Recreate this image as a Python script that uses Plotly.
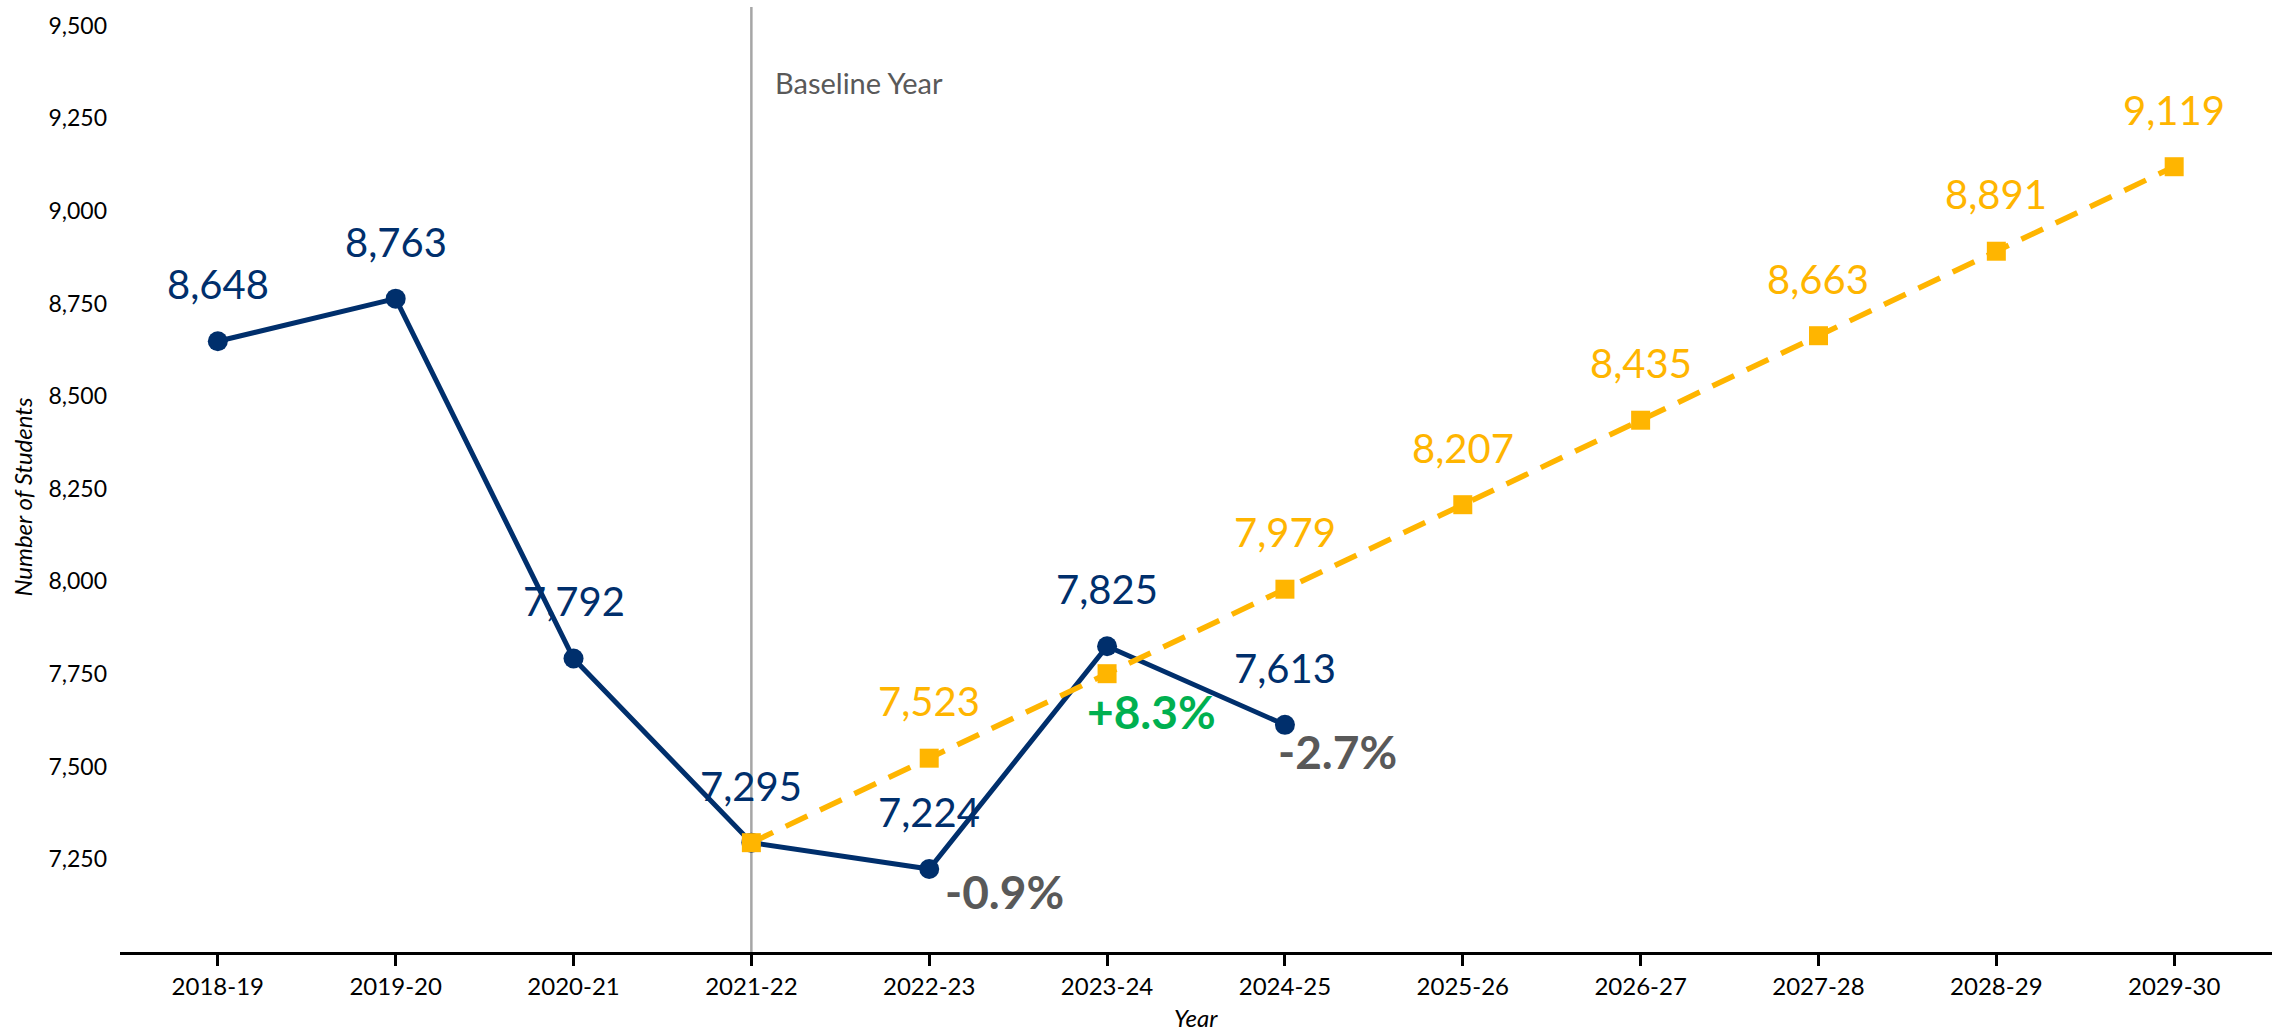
import plotly.graph_objects as go

# school years on the x axis
years = ['2018-19', '2019-20', '2020-21', '2021-22', '2022-23', '2023-24',
         '2024-25', '2025-26', '2026-27', '2027-28', '2028-29', '2029-30']

# actual enrollment
actual_years = years[:7]
actual = [8648, 8763, 7792, 7295, 7224, 7825, 7613]

# projected enrollment from the baseline year
proj_years = years[3:]
projected = [7295, 7523, 7751, 7979, 8207, 8435, 8663, 8891, 9119]
proj_labelled = ['2022-23', '2024-25', '2025-26', '2026-27', '2027-28', '2028-29', '2029-30']

# year-over-year change labels
pct_years = ['2022-23', '2023-24', '2024-25']
pct_text = ['-0.9%', '+8.3%', '-2.7%']

baseline = '2021-22'

navy = '#002F6C'
gold = '#FFB500'
grey = '#595959'
green = '#00B050'
font = 'Source Sans Pro, Lato, sans-serif'

fig = go.Figure()
fig.add_trace(go.Scatter(x=actual_years, y=actual, mode='lines+markers',
                         line=dict(color=navy, width=5),
                         marker=dict(color=navy, size=20, symbol='circle'),
                         name='Actual'))
fig.add_trace(go.Scatter(x=proj_years, y=projected, mode='lines+markers',
                         line=dict(color=gold, width=5.5, dash='24px,14px'),
                         marker=dict(color=gold, size=19, symbol='square'),
                         name='Projected'))

ann = []
for yr, v in zip(actual_years, actual):
    ann.append(dict(x=yr, y=v, text=f'{v:,}', showarrow=False, yshift=57,
                    font=dict(size=40, color=navy, family=font)))
for yr, v in zip(proj_years, projected):
    if yr in proj_labelled:
        ann.append(dict(x=yr, y=v, text=f'{v:,}', showarrow=False, yshift=57,
                        font=dict(size=40, color=gold, family=font)))

# offsets for the change labels (px, left edge / middle)
pct_shift = {'2022-23': (14, -23), '2023-24': (-22, -65), '2024-25': (-9, -27)}
for yr, t in zip(pct_years, pct_text):
    v = actual[actual_years.index(yr)]
    dx, dy = pct_shift[yr]
    ann.append(dict(x=yr, y=v, text=f'<b>{t}</b>', showarrow=False,
                    xanchor='left', yanchor='middle', xshift=dx, yshift=dy,
                    font=dict(size=46, color=green if t.startswith('+') else grey, family=font)))

ann.append(dict(x=baseline, y=0.92, yref='paper', text='Baseline Year', showarrow=False,
                xanchor='left', yanchor='middle', xshift=22,
                font=dict(size=29, color=grey, family=font)))

# axis titles, placed by hand like the original
ann.append(dict(x=-0.0455, y=0.481, xref='paper', yref='paper', text='<i>Number of Students</i>',
                showarrow=False, textangle=-90, xanchor='center', yanchor='middle',
                font=dict(size=24, color='black', family=font)))
ann.append(dict(x=0.5, y=-0.069, xref='paper', yref='paper', text='<i>Year</i>',
                showarrow=False, xanchor='center', yanchor='middle',
                font=dict(size=24, color='black', family=font)))

fig.add_shape(type='line', x0=baseline, x1=baseline, y0=0, y1=1, yref='paper',
              line=dict(color='#A6A6A6', width=2.5), layer='below')

fig.update_layout(
    width=2272, height=1034,
    margin=dict(l=120, r=0, t=7, b=82),
    plot_bgcolor='white', paper_bgcolor='white',
    showlegend=False,
    font=dict(family=font, color='black'),
    annotations=ann,
    xaxis=dict(type='category', categoryorder='array', categoryarray=years,
               range=[-0.55, 11.55], showgrid=False, zeroline=False, automargin=False,
               showline=True, linecolor='black', linewidth=3,
               ticks='outside', ticklen=11, tickwidth=2.5, tickcolor='black',
               tickfont=dict(size=24, color='black')),
    yaxis=dict(range=[7000, 9550], tickvals=[7250, 7500, 7750, 8000, 8250, 8500, 8750, 9000, 9250, 9500],
               tickformat=',', showgrid=False, zeroline=False, showline=False, automargin=False,
               ticklabelstandoff=12,
               tickfont=dict(size=23, color='black')),
)

fig.write_html('out.html', config={'displayModeBar': False},
               post_script="document.body.style.margin='0';")
